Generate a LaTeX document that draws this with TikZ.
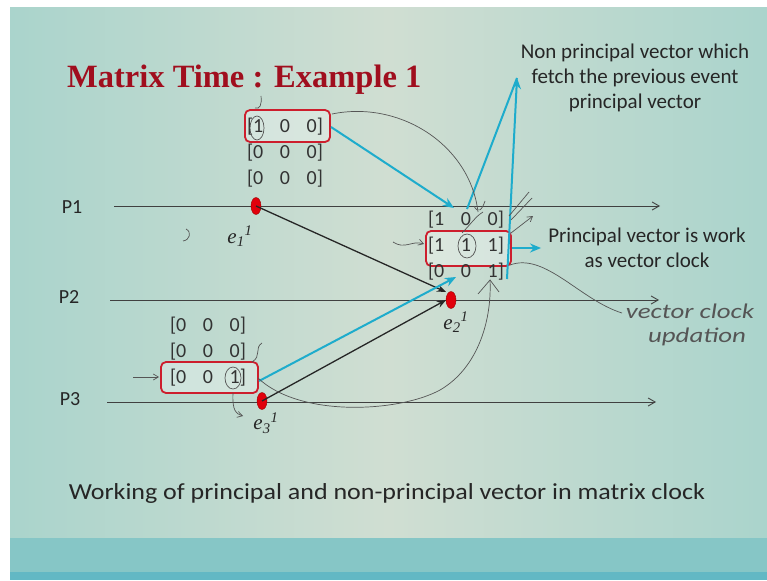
\documentclass[tikz,border=0pt]{standalone}
\usepackage{fontspec}
\setmainfont{Carlito}
\newfontfamily\titlefont{Liberation Serif}
\usetikzlibrary{arrows.meta,shapes.geometric}
\definecolor{slidemid}{RGB}{208,222,210}
\definecolor{slideside}{RGB}{170,212,204}
\definecolor{band}{RGB}{134,198,198}
\definecolor{bandlow}{RGB}{98,184,196}
\definecolor{titlered}{RGB}{160,14,30}
\definecolor{boxred}{RGB}{205,30,45}
\definecolor{cyanarrow}{RGB}{30,172,204}
\definecolor{evred}{RGB}{225,0,12}
\definecolor{ink}{RGB}{85,85,85}
\tikzset{
  txt/.style={inner sep=0pt, text=black!85, font=\fontsize{21}{25}\selectfont},
  rowtxt/.style={inner sep=0pt, text=black!80, font=\fontsize{20}{20}\selectfont},
  plabel/.style={inner sep=0pt, text=black!85, font=\fontsize{20}{20}\selectfont},
  elabel/.style={inner sep=0pt, text=black!85, font=\titlefont\itshape\fontsize{21}{21}\selectfont},
  handtxt/.style={inner sep=0pt, text=ink, font=\itshape\fontsize{21}{21}\selectfont, xscale=1.28},
  pline/.style={draw=black!75, line width=0.9pt, -{Straight Barb[length=7pt,width=8pt]}},
  event/.style={ellipse, fill=evred, draw=red!60!black, line width=0.4pt, minimum width=10pt, minimum height=17pt, inner sep=0pt},
  vbox/.style={draw=boxred, line width=1.8pt, rounded corners=5pt, fill=white, fill opacity=0.3},
  msg/.style={draw=black!85, line width=1.3pt, -{Stealth[length=9pt,width=7pt]}},
  cmsg/.style={draw=cyanarrow, line width=2pt, -{Stealth[length=11pt,width=9pt]}},
  cline/.style={draw=cyanarrow, line width=2pt},
  hand/.style={draw=ink, line width=0.7pt},
  handarrow/.style={draw=ink, line width=0.7pt, -{Straight Barb[length=5pt,width=6pt]}},
}
\newcommand{\vrow}[3]{[#1\hspace{0.83em}#2\hspace{0.83em}#3]}
\begin{document}
\begin{tikzpicture}[x=1pt,y=-1pt]
\useasboundingbox (0,0) rectangle (767,580);
% background
\fill[white] (0,0) rectangle (767,580);
\shade[left color=slideside, right color=slideside, middle color=slidemid] (10,8) rectangle (767,538);
\fill[band] (10,538) rectangle (767,572);
\fill[bandlow] (10,572) rectangle (767,580);

% title
\node[anchor=base west, inner sep=0pt, text=titlered, font=\titlefont\bfseries\fontsize{32.5}{32}\selectfont] (title) at (67,88) {Matrix Time : Example 1};

% process labels
\node[plabel] (P1) at (72,207) {P1};
\node[plabel] (P2) at (69,297) {P2};
\node[plabel] (P3) at (70,399) {P3};

% process lines
\coordinate (p1s) at (114,206); \coordinate (p1e) at (660,206);
\coordinate (p2s) at (110,300); \coordinate (p2e) at (659,300);
\coordinate (p3s) at (107,402); \coordinate (p3e) at (656,402);
\draw[pline] (p1s) -- (p1e);
\draw[pline] (p2s) -- (p2e);
\draw[pline] (p3s) -- (p3e);

% red boxes
\draw[vbox] (245,110) rectangle (330,142);
\draw[vbox] (426,231) rectangle (511,266);
\draw[vbox] (161,362) rectangle (258,393);

% matrices
\node[rowtxt] (a1) at (285,127) {\vrow{1}{0}{0}};
\node[rowtxt] (a2) at (285,153) {\vrow{0}{0}{0}};
\node[rowtxt] (a3) at (285,179) {\vrow{0}{0}{0}};
\node[rowtxt] (b1) at (466,220) {\vrow{1}{0}{0}};
\node[rowtxt] (b2) at (466,246) {\vrow{1}{1}{1}};
\node[rowtxt] (b3) at (466,272) {\vrow{0}{0}{1}};
\node[rowtxt] (c1) at (208,326) {\vrow{0}{0}{0}};
\node[rowtxt] (c2) at (208,352) {\vrow{0}{0}{0}};
\node[rowtxt] (c3) at (208,378) {\vrow{0}{0}{1}};

% events
\node[event] (e1) at (256,206) {};
\node[event] (e2) at (451,300) {};
\node[event] (e3) at (262,401) {};
\node[elabel] (l1) at (240,236) {e\textsubscript{1}\textsuperscript{1}};
\node[elabel] (l2) at (456,322) {e\textsubscript{2}\textsuperscript{1}};
\node[elabel] (l3) at (266,423) {e\textsubscript{3}\textsuperscript{1}};

% black messages
\coordinate (t1) at (446,292);
\coordinate (t3) at (446,300);
\draw[msg] (e1.center) -- (t1);
\draw[msg] (e3.center) -- (t3);

% cyan arrows
\coordinate (abox) at (331,127);
\coordinate (atip) at (454,208);
\draw[cmsg] (abox) -- (atip);
\coordinate (cbox) at (259,381);
\coordinate (ctip) at (456,277);
\draw[cmsg] (cbox) -- (ctip);

% notes
\node[txt, align=center] (np) at (635,78) {Non principal vector which\\fetch the previous event\\principal vector};
\node[txt, align=center] (pv) at (647,248) {Principal vector is work\\as vector clock};
\coordinate (bbox) at (512,248);
\draw[cmsg] (bbox) -- ([xshift=-7pt]pv.west);
\coordinate (nptip) at (517,78);
\coordinate (npa) at (467,209);
\coordinate (npb) at (507,279);
\draw[cline] (npa) -- (nptip);
\draw[cmsg] (npb) -- (nptip);

% caption
\node[inner sep=0pt, text=black!85, font=\fontsize{23}{23}\selectfont, xscale=1.13] (cap) at (387,493) {Working of principal and non-principal vector in matrix clock};

% handwritten annotations
\node[handtxt] (hw1) at (690,311) {vector clock};
\node[handtxt] (hw2) at (697,337) {updation};
\draw[hand] (332,114) .. controls (400,100) and (470,145) .. (478,212);
\draw[hand] (474,206) .. controls (478,214) and (482,210) .. (485,201);
\draw[hand] (258,378) .. controls (300,418) and (400,412) .. (440,390) .. controls (478,368) and (492,320) .. (490,280);
\draw[hand] (478,294) -- (490,280) -- (499,292);
\draw[hand] (510,265) .. controls (545,252) and (580,300) .. (622,313);
\draw[hand] (257,128) ellipse (7pt and 12pt);
\draw[hand] (467,246) ellipse (9pt and 12pt);
\draw[hand] (233,378) ellipse (8pt and 11pt);
\draw[hand] (261,96) .. controls (262,104) and (260,110) .. (255,108);
\draw[hand] (186,229) .. controls (192,232) and (190,240) .. (183,241);
\draw[hand] (262,343) .. controls (254,348) and (262,356) .. (252,362);
\draw[handarrow] (133,377) -- (159,377);
\draw[handarrow] (393,242) .. controls (405,250) and (412,240) .. (424,244);
\draw[handarrow] (233,393) .. controls (232,410) and (236,414) .. (243,416);
\draw[hand] (509,216) -- (529,192);
\draw[hand] (511,220) -- (532,198);
\draw[handarrow] (511,233) -- (533,216);
\draw[hand] (462,233) .. controls (470,225) and (476,216) .. (483,212);
\end{tikzpicture}
\end{document}
